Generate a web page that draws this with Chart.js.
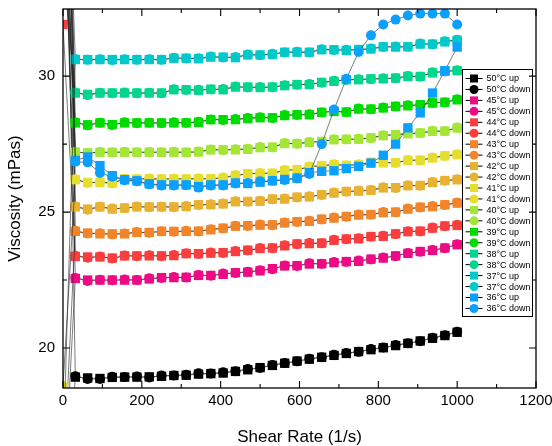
<!DOCTYPE html>
<html>
<head>
<meta charset="utf-8">
<script src="https://cdn.jsdelivr.net/npm/chart.js@4.4.1/dist/chart.umd.min.js"></script>
<style>
  html, body { margin: 0; padding: 0; background: #fff; }
  #c { display: block; }
</style>
</head>
<body>
<canvas id="c" width="552" height="446"></canvas>
<script>
// ---- data ----
const shearRate = [0, 31.3, 62.5, 93.8, 125, 156.3, 187.5, 218.8, 250, 281.3, 312.5, 343.8, 375, 406.3, 437.5, 468.8,
  500, 531.3, 562.5, 593.8, 625, 656.3, 687.5, 718.8, 750, 781.3, 812.5, 843.8, 875, 906.3, 937.5, 968.8, 1000];

const xTicks = [0, 200, 400, 600, 800, 1000, 1200];
const xMinor = [100, 300, 500, 700, 900, 1100];
const yTicks = [20, 25, 30];
const yMinor = [22.5, 27.5];

const temps = ["50°C", "45°C", "44°C", "43°C", "42°C", "41°C", "40°C", "39°C", "38°C", "37°C", "36°C"];
const tempColors = ["#000000", "#ee0a84", "#fc3d3e", "#f2852a", "#e8b130", "#e6de2e", "#a3e635", "#00dc00", "#00d68e", "#00c9cc", "#0aa0ff"];

const v50up = [45, 18.93, 18.90, 18.88, 18.92, 18.93, 18.93, 18.94, 18.96, 18.99, 19.00, 19.04, 19.06, 19.08, 19.14, 19.20, 19.28, 19.36, 19.44, 19.52, 19.59, 19.66, 19.73, 19.80, 19.87, 19.94, 20.01, 20.09, 20.17, 20.26, 20.36, 20.46, 20.58];
const v50down = [12, 18.96, 18.86, 18.86, 18.94, 18.93, 18.95, 18.92, 18.99, 18.99, 19.02, 19.07, 19.06, 19.11, 19.15, 19.23, 19.27, 19.38, 19.45, 19.51, 19.61, 19.66, 19.75, 19.82, 19.86, 19.96, 20.02, 20.11, 20.18, 20.25, 20.38, 20.47, 20.60];
const v45up = [40, 22.56, 22.50, 22.50, 22.50, 22.50, 22.50, 22.54, 22.59, 22.59, 22.60, 22.67, 22.67, 22.71, 22.77, 22.79, 22.84, 22.92, 23.02, 23.03, 23.09, 23.10, 23.14, 23.18, 23.19, 23.27, 23.31, 23.39, 23.48, 23.55, 23.59, 23.68, 23.80];
const v45down = [14, 22.58, 22.47, 22.51, 22.49, 22.52, 22.50, 22.57, 22.58, 22.61, 22.59, 22.69, 22.66, 22.74, 22.76, 22.81, 22.86, 22.90, 23.04, 23.02, 23.12, 23.10, 23.16, 23.17, 23.22, 23.26, 23.33, 23.38, 23.50, 23.54, 23.61, 23.67, 23.82];
const v44up = [31.9, 23.37, 23.35, 23.35, 23.31, 23.39, 23.39, 23.39, 23.39, 23.40, 23.47, 23.47, 23.49, 23.51, 23.55, 23.60, 23.66, 23.68, 23.76, 23.83, 23.84, 23.86, 23.96, 24.01, 24.02, 24.10, 24.11, 24.20, 24.28, 24.30, 24.41, 24.49, 24.51];
const v44down = [38, 23.39, 23.32, 23.37, 23.29, 23.40, 23.38, 23.41, 23.38, 23.42, 23.49, 23.46, 23.51, 23.50, 23.57, 23.59, 23.68, 23.67, 23.78, 23.82, 23.86, 23.85, 23.98, 24.00, 24.04, 24.09, 24.13, 24.19, 24.30, 24.29, 24.43, 24.48, 24.53];
const v43up = [50, 24.29, 24.23, 24.20, 24.20, 24.20, 24.25, 24.25, 24.29, 24.29, 24.29, 24.30, 24.35, 24.41, 24.48, 24.50, 24.52, 24.53, 24.60, 24.65, 24.66, 24.74, 24.78, 24.84, 24.89, 24.91, 24.98, 25.00, 25.11, 25.18, 25.20, 25.27, 25.33];
const v43down = [15, 24.31, 24.21, 24.22, 24.18, 24.21, 24.27, 24.24, 24.30, 24.28, 24.31, 24.29, 24.37, 24.40, 24.50, 24.49, 24.54, 24.52, 24.62, 24.64, 24.68, 24.73, 24.80, 24.83, 24.91, 24.90, 25.00, 24.99, 25.13, 25.17, 25.22, 25.26, 25.35];
const v42up = [42, 25.19, 25.11, 25.19, 25.11, 25.15, 25.19, 25.19, 25.19, 25.19, 25.20, 25.27, 25.27, 25.30, 25.38, 25.39, 25.40, 25.48, 25.48, 25.55, 25.56, 25.64, 25.70, 25.76, 25.77, 25.80, 25.89, 25.90, 25.97, 25.98, 26.09, 26.16, 26.19];
const v42down = [37, 25.21, 25.09, 25.20, 25.13, 25.14, 25.21, 25.18, 25.20, 25.18, 25.22, 25.26, 25.29, 25.32, 25.40, 25.38, 25.42, 25.47, 25.50, 25.54, 25.58, 25.63, 25.72, 25.75, 25.79, 25.81, 25.91, 25.89, 25.99, 25.97, 26.11, 26.15, 26.21];
const v41up = [46, 26.19, 26.09, 26.09, 26.07, 26.22, 26.22, 26.22, 26.22, 26.22, 26.22, 26.22, 26.23, 26.25, 26.34, 26.41, 26.42, 26.43, 26.53, 26.56, 26.66, 26.71, 26.74, 26.72, 26.74, 26.83, 26.81, 26.82, 26.90, 26.91, 26.99, 27.07, 27.11];
const v41down = [18.6, 26.21, 26.07, 26.11, 26.05, 26.23, 26.21, 26.24, 26.20, 26.23, 26.21, 26.24, 26.22, 26.27, 26.36, 26.40, 26.44, 26.42, 26.55, 26.55, 26.68, 26.70, 26.76, 26.71, 26.76, 26.82, 26.83, 26.81, 26.92, 26.90, 27.01, 27.06, 27.13];
const v40up = [39, 27.20, 27.18, 27.20, 27.20, 27.20, 27.20, 27.20, 27.20, 27.20, 27.20, 27.21, 27.29, 27.29, 27.29, 27.31, 27.37, 27.39, 27.52, 27.52, 27.56, 27.60, 27.66, 27.68, 27.68, 27.73, 27.81, 27.85, 27.88, 27.91, 27.97, 27.98, 28.09];
const v40down = [44, 27.22, 27.16, 27.21, 27.19, 27.22, 27.19, 27.21, 27.20, 27.22, 27.19, 27.23, 27.30, 27.28, 27.31, 27.33, 27.39, 27.38, 27.54, 27.51, 27.58, 27.59, 27.68, 27.67, 27.70, 27.72, 27.83, 27.84, 27.90, 27.90, 27.99, 27.97, 28.11];
const v39up = [36, 28.28, 28.21, 28.28, 28.22, 28.28, 28.28, 28.28, 28.28, 28.28, 28.28, 28.30, 28.40, 28.40, 28.40, 28.44, 28.47, 28.47, 28.55, 28.58, 28.58, 28.67, 28.70, 28.68, 28.79, 28.79, 28.83, 28.89, 28.91, 28.95, 29.01, 29.04, 29.13];
const v39down = [48, 28.30, 28.19, 28.29, 28.20, 28.30, 28.27, 28.29, 28.27, 28.30, 28.29, 28.32, 28.41, 28.39, 28.42, 28.46, 28.49, 28.46, 28.57, 28.57, 28.60, 28.66, 28.72, 28.67, 28.81, 28.78, 28.85, 28.88, 28.93, 28.94, 29.03, 29.03, 29.15];
const v38up = [34, 29.38, 29.33, 29.38, 29.38, 29.38, 29.38, 29.38, 29.38, 29.50, 29.50, 29.48, 29.52, 29.50, 29.60, 29.60, 29.58, 29.60, 29.65, 29.69, 29.69, 29.77, 29.81, 29.87, 29.87, 29.90, 29.90, 29.93, 29.99, 29.99, 30.12, 30.18, 30.20];
const v38down = [41, 29.40, 29.30, 29.39, 29.37, 29.40, 29.37, 29.39, 29.37, 29.52, 29.49, 29.50, 29.51, 29.53, 29.62, 29.58, 29.60, 29.59, 29.67, 29.68, 29.71, 29.76, 29.83, 29.86, 29.89, 29.89, 29.92, 29.92, 30.01, 29.98, 30.14, 30.17, 30.22];
const v37up = [43, 30.61, 30.61, 30.61, 30.61, 30.61, 30.61, 30.61, 30.61, 30.66, 30.66, 30.64, 30.70, 30.70, 30.68, 30.78, 30.78, 30.80, 30.88, 30.88, 30.88, 30.97, 30.97, 30.95, 30.98, 31.00, 31.08, 31.07, 31.08, 31.18, 31.18, 31.26, 31.32];
const v37down = [16, 30.63, 30.60, 30.62, 30.59, 30.62, 30.60, 30.62, 30.60, 30.68, 30.65, 30.66, 30.72, 30.69, 30.70, 30.80, 30.77, 30.82, 30.87, 30.90, 30.87, 30.99, 30.96, 30.97, 30.97, 31.02, 31.07, 31.09, 31.07, 31.20, 31.17, 31.28, 31.34];
const v36up = [47, 26.90, 27.03, 26.71, 26.34, 26.19, 26.15, 26.04, 26.00, 26.00, 26.00, 25.94, 26.00, 26.00, 26.07, 26.05, 26.10, 26.15, 26.20, 26.25, 26.45, 26.50, 26.52, 26.60, 26.68, 26.80, 27.09, 27.50, 28.10, 28.65, 29.38, 30.20, 31.07];
const v36down = [39, 26.85, 26.83, 26.44, 26.30, 26.17, 26.13, 26.02, 25.98, 25.98, 25.99, 25.90, 25.98, 25.98, 26.05, 26.07, 26.13, 26.15, 26.18, 26.24, 26.40, 27.50, 28.77, 29.90, 30.89, 31.50, 31.90, 32.08, 32.23, 32.30, 32.30, 32.30, 31.90];

const upSeries = [v50up, v45up, v44up, v43up, v42up, v41up, v40up, v39up, v38up, v37up, v36up];
const downSeries = [v50down, v45down, v44down, v43down, v42down, v41down, v40down, v39down, v38down, v37down, v36down];

// ---- chart ----
const FONT = '"Liberation Sans", Arial, sans-serif';

function makeSet(label, values, color, style) {
    return {
        label,
        data: shearRate.map((x, i) => ({ x, y: values[i] })),
        showLine: true,
        borderColor: "#222",
        borderWidth: 0.6,
        backgroundColor: color,
        pointBackgroundColor: color,
        pointBorderColor: color,
        pointBorderWidth: 0,
        pointStyle: style,
        pointRadius: style === "rect" ? 6.6 : 5,
        pointHoverRadius: style === "rect" ? 6.6 : 5
    };
}

const datasets = [];
temps.forEach((t, k) => {
    datasets.push(makeSet(t + " up", upSeries[k], tempColors[k], "rect"));
    datasets.push(makeSet(t + " down", downSeries[k], tempColors[k], "circle"));
});
// later series drawn on top, like the original
datasets.forEach((d, i) => { d.order = -i; });

const legendBox = {
    id: "legendBox",
    afterDraw(chart) {
        const ctx = chart.ctx;
        const a = chart.chartArea;
        const left = Math.round(a.right) - 73.5, top = 69.5, w = 70, h = 247;
        ctx.save();
        ctx.fillStyle = "#fff";
        ctx.fillRect(left, top, w, h);
        ctx.strokeStyle = "#000";
        ctx.lineWidth = 1;
        ctx.strokeRect(left, top, w, h);
        ctx.font = "9px " + FONT;
        ctx.textBaseline = "middle";
        ctx.textAlign = "left";
        chart.data.datasets.forEach((ds, k) => {
            const y = top + 9 + k * 10.95;
            const cx = left + 11.5;
            ctx.strokeStyle = "#000";
            ctx.lineWidth = 1;
            ctx.beginPath();
            ctx.moveTo(left + 3, y);
            ctx.lineTo(left + 20, y);
            ctx.stroke();
            ctx.fillStyle = ds.pointBackgroundColor;
            if (ds.pointStyle === "rect") {
                ctx.fillRect(cx - 4, y - 4, 8, 8);
            } else {
                ctx.beginPath();
                ctx.arc(cx, y, 4.5, 0, Math.PI * 2);
                ctx.fill();
            }
            ctx.fillStyle = "#000";
            ctx.fillText(ds.label, left + 24, y + 0.5);
        });
        ctx.restore();
    }
};

const frame = {
    id: "frame",
    afterDraw(chart) {
        const { ctx, chartArea: a, scales } = chart;
        const x = scales.x, y = scales.y;
        ctx.save();
        ctx.strokeStyle = "#000";
        ctx.lineWidth = 1.3;
        ctx.strokeRect(a.left, a.top, a.right - a.left, a.bottom - a.top);
        ctx.lineWidth = 1.1;
        ctx.beginPath();
        const tickX = (vals, len) => vals.forEach(v => {
            const p = x.getPixelForValue(v);
            ctx.moveTo(p, a.bottom); ctx.lineTo(p, a.bottom - len);
            ctx.moveTo(p, a.top); ctx.lineTo(p, a.top + len);
        });
        const tickY = (vals, len) => vals.forEach(v => {
            const p = y.getPixelForValue(v);
            ctx.moveTo(a.left, p); ctx.lineTo(a.left + len, p);
            ctx.moveTo(a.right, p); ctx.lineTo(a.right - len, p);
        });
        tickX(xTicks, 7); tickX(xMinor, 4);
        tickY(yTicks, 7); tickY(yMinor, 4);
        ctx.stroke();
        ctx.restore();
    }
};

new Chart(document.getElementById("c").getContext("2d"), {
    type: "scatter",
    data: { datasets },
    options: {
        responsive: false,
        animation: false,
        devicePixelRatio: 1,
        layout: { padding: { top: 9, right: 16, left: 0, bottom: 0 } },
        plugins: { legend: { display: false }, tooltip: { enabled: false } },
        scales: {
            x: {
                type: "linear",
                min: 0,
                max: 1200,
                grid: { display: false, drawTicks: false },
                border: { display: false },
                afterBuildTicks: s => { s.ticks = xTicks.map(v => ({ value: v })); },
                afterFit: s => { s.height = 58; s.paddingLeft = 0; s.paddingRight = 0; },
                ticks: { color: "#000", font: { family: FONT, size: 15 }, padding: 4, maxRotation: 0, autoSkip: false, callback: v => String(v) },
                title: { display: true, text: "Shear Rate (1/s)", color: "#000", font: { family: FONT, size: 17 }, padding: { top: 0, bottom: -2 } }
            },
            y: {
                type: "linear",
                min: 18.53,
                max: 32.47,
                grid: { display: false, drawTicks: false },
                border: { display: false },
                afterBuildTicks: s => { s.ticks = yTicks.map(v => ({ value: v })); },
                afterFit: s => { s.width = 63; s.paddingTop = 0; s.paddingBottom = 0; },
                ticks: { color: "#000", font: { family: FONT, size: 15 }, padding: 8, autoSkip: false, callback: v => String(v) },
                title: { display: true, text: "Viscosity (mPas)", color: "#000", font: { family: FONT, size: 17 }, padding: { top: 5, bottom: 0 } }
            }
        }
    },
    plugins: [legendBox, frame]
});
</script>
</body>
</html>
